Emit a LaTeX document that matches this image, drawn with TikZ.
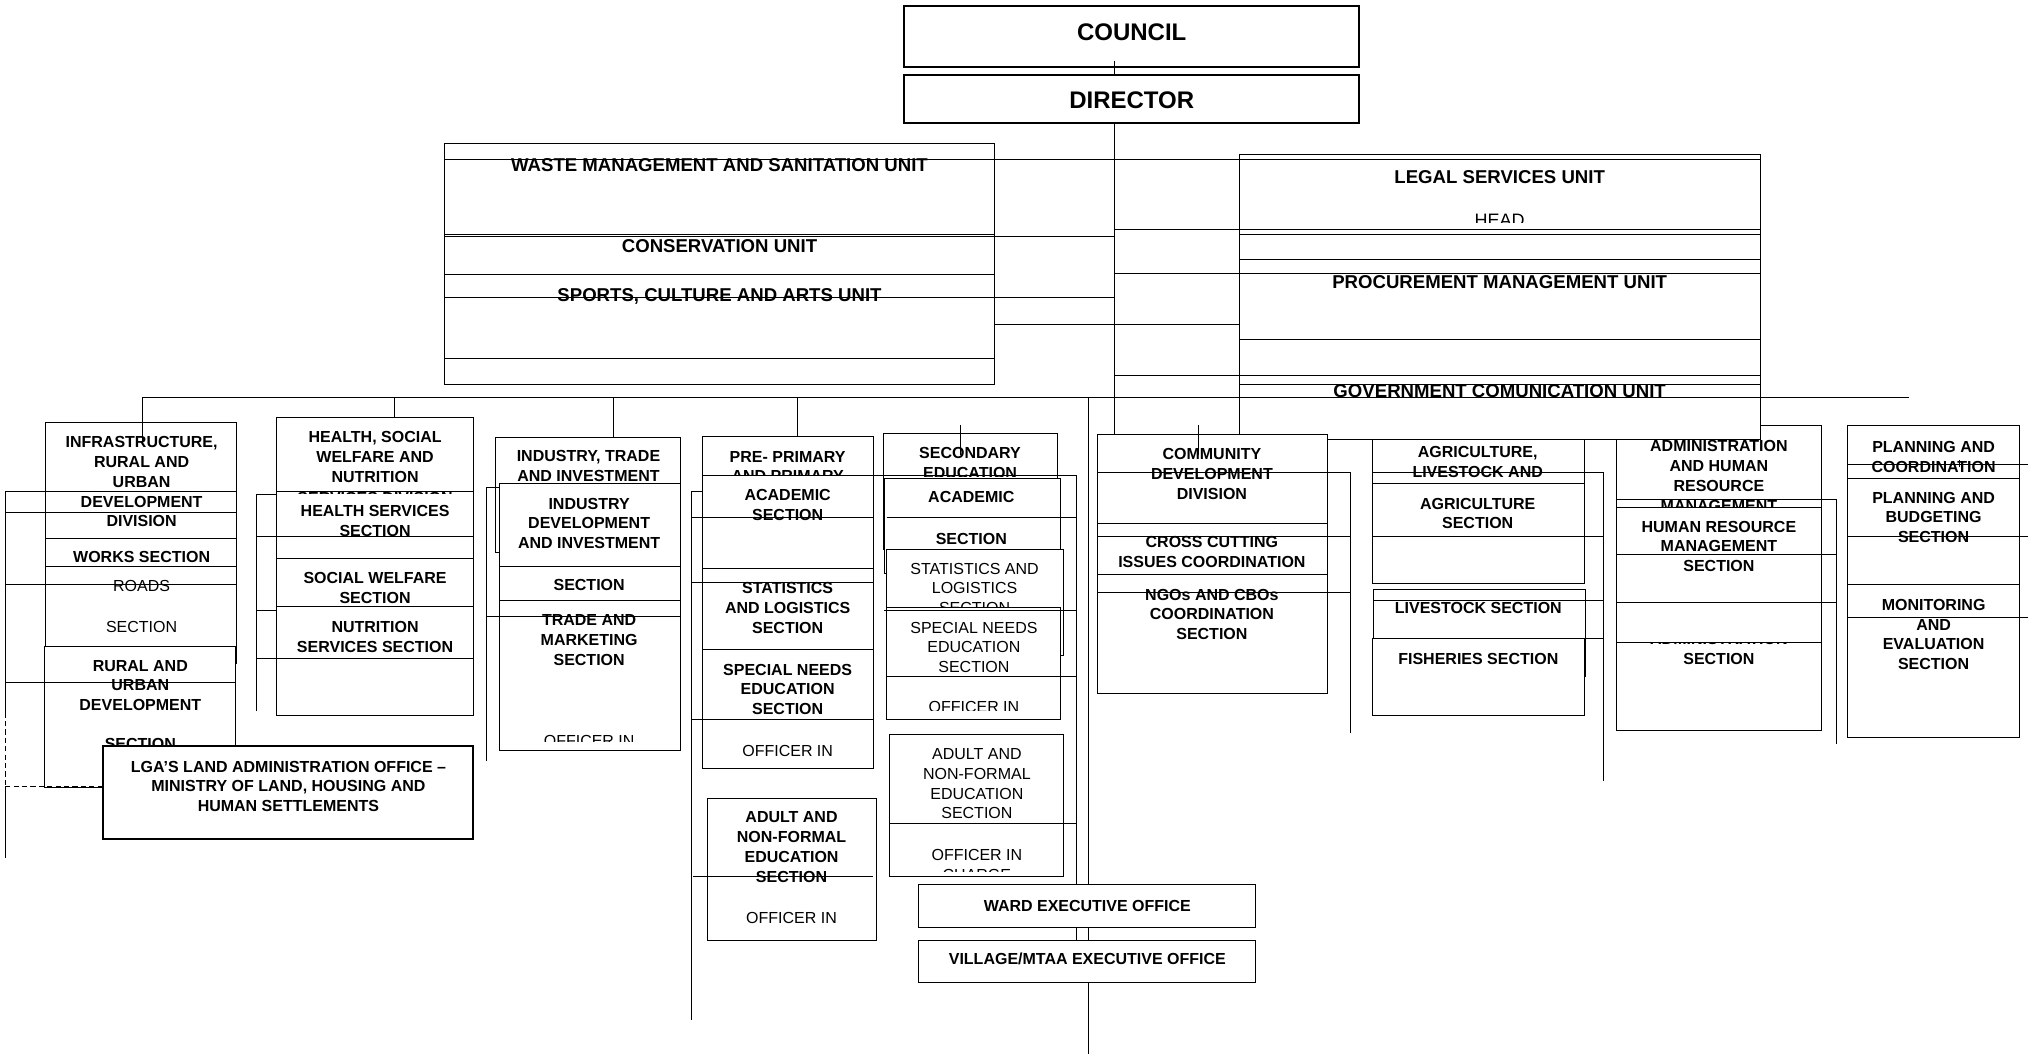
\documentclass[tikz,border=0pt]{standalone}
\usepackage{fontspec}
\setmainfont{Liberation Sans}
\usetikzlibrary{fit}
\newcommand\mybox[6][]{\node[bx,#1,fit={(#3,#4) (#5,#6)}] (#2) {};}
\begin{document}
\begin{tikzpicture}[x=0.6467pt,y=-0.6467pt,
  bx/.style={draw,line width=0.5pt,fill=white,inner sep=0pt,outer sep=0pt},
  thk/.style={line width=1pt},
  ln/.style={line width=0.5pt},
  tb/.style={font=\bfseries\fontsize{8}{9.9}\selectfont,align=center,inner sep=0pt},
  tr/.style={font=\fontsize{8}{9.9}\selectfont,align=center,inner sep=0pt},
  tu/.style={font=\bfseries\fontsize{9.3}{11}\selectfont,align=center,inner sep=0pt},
  tbig/.style={font=\bfseries\fontsize{12}{14}\selectfont,inner sep=0pt}]
\useasboundingbox (0,0) rectangle (1568,820);

% ---------- boxes ----------
\mybox[thk]{council}{699}{5}{1051}{51.5}
\mybox[thk]{director}{699}{58}{1051}{95.4}
\mybox{waste}{344}{111.3}{769}{297}
\mybox{infra}{35.5}{327}{183}{513}
\mybox{rural}{34.5}{500}{182}{609}
\mybox[thk]{lga}{80}{577}{366}{649}
\mybox{health}{214}{323}{366}{553}
\mybox{indout}{383}{338}{526}{427}
\mybox{indin}{386}{374}{526}{580}
\mybox{prim}{543.5}{337.5}{675}{594}
\mybox{primadult}{547}{617}{678}{727}
\mybox{sec}{683}{335}{817.8}{424.7}
\mybox{secacad}{683.7}{369.8}{819.6}{443.3}
\mybox{secstat}{685.5}{424.7}{822}{507}
\mybox{secspec}{685.5}{469.8}{819.6}{556.2}
\mybox{secadult}{688}{568}{822}{678}
\mybox{agri}{1061}{340}{1225}{451}
\mybox{lives}{1062}{456}{1226}{523}
\mybox{fish}{1061}{494}{1225}{553}
\mybox{admin}{1250}{329.3}{1408}{565}
\mybox{legal}{958.5}{119.5}{1361}{340}
\mybox{comm}{848.4}{335.8}{1026.4}{536}
\mybox{plan}{1428.5}{329.3}{1561.3}{570.5}

% ---------- texts ----------
\node[tbig] (tcouncil) at (875,25) {COUNCIL};
\node[tbig] (tdirector) at (875,77.5) {DIRECTOR};
\node[tu] (twaste) at (556.3,128) {WASTE MANAGEMENT AND SANITATION UNIT};
\node[tu] (tcons) at (556.3,190.5) {CONSERVATION UNIT};
\node[tu] (tsports) at (556.3,229) {SPORTS, CULTURE AND ARTS UNIT};
\node[tu] (tlegal) at (1159.5,136.6) {LEGAL SERVICES UNIT};
\begin{scope}\clip (958.5,150) rectangle (1361,172.2);
\node[font=\fontsize{9}{11}\selectfont,inner sep=0pt] (thead) at (1159.5,170) {HEAD};
\end{scope}
\node[tu] (tproc) at (1159.5,217.8) {PROCUREMENT MANAGEMENT UNIT};
\node[tu] (tgov) at (1159.5,302.5) {GOVERNMENT COMUNICATION UNIT};

% infrastructure
\node[tb] (tinfra) at (109.5,372.5) {INFRASTRUCTURE,\\RURAL AND\\URBAN\\DEVELOPMENT\\DIVISION};
\node[tb] (tworks) at (109.5,430.5) {WORKS SECTION};
\node[tr] (troads) at (109.5,453) {ROADS};
\node[tr] (troadsec) at (109.5,485) {SECTION};
\node[tb] (trural) at (108.5,530) {RURAL AND\\URBAN\\DEVELOPMENT};
\begin{scope}\clip (35,560) rectangle (182,577);
\node[tb] (truralsec) at (108.5,575.5) {SECTION};
\end{scope}
\node[tb,font=\bfseries\fontsize{8}{9.7}\selectfont] (tlga) at (223,608) {LGA’S LAND ADMINISTRATION OFFICE \textendash\\MINISTRY OF LAND, HOUSING AND\\HUMAN SETTLEMENTS};

% health
\node[tb] (thealth) at (290,353.5) {HEALTH, SOCIAL\\WELFARE AND\\NUTRITION};
\begin{scope}\clip (214,375) rectangle (366,381.5);
\node[tb] (thdiv) at (290,384.8) {SERVICES DIVISION};
\end{scope}
\node[tb] (thserv) at (290,403) {HEALTH SERVICES\\SECTION};
\node[tb] (tsocial) at (290,454.5) {SOCIAL WELFARE\\SECTION};
\node[tb] (tnutri) at (290,492.5) {NUTRITION\\SERVICES SECTION};

% industry
\node[tb] (tind) at (455,360) {INDUSTRY, TRADE\\AND INVESTMENT};
\node[tb] (tinddev) at (455.5,404.7) {INDUSTRY\\DEVELOPMENT\\AND INVESTMENT};
\node[tb] (tindsec) at (455.5,452) {SECTION};
\node[tb] (ttrade) at (455.5,494.7) {TRADE AND\\MARKETING\\SECTION};
\begin{scope}\clip (386,560) rectangle (526,573);
\node[tr] (tindoff) at (455.5,573) {OFFICER IN};
\end{scope}

% pre-primary
\node[tb] (tprim) at (609,353) {PRE- PRIMARY};
\begin{scope}\clip (543.5,355) rectangle (675,367.3);
\node[tb] (tprim2) at (609,368) {AND PRIMARY};
\end{scope}
\node[tb] (tpacad) at (609,390.5) {ACADEMIC\\SECTION};
\node[tb] (tpstat) at (609,470) {STATISTICS\\AND LOGISTICS\\SECTION};
\node[tb] (tpspec) at (609,533) {SPECIAL NEEDS\\EDUCATION\\SECTION};
\node[tr] (tpoff) at (609,580.5) {OFFICER IN};
\node[tb] (tpadult) at (612,655) {ADULT AND\\NON-FORMAL\\EDUCATION\\SECTION};
\node[tr] (tpaoff) at (612,710) {OFFICER IN};

% secondary
\node[tb] (tsec) at (750,350.5) {SECONDARY};
\begin{scope}\clip (683,355) rectangle (818,368.5);
\node[tb] (tsec2) at (750,366) {EDUCATION};
\end{scope}
\node[tb] (tsacad) at (751,384.5) {ACADEMIC};
\node[tb] (tsacad2) at (751,416.8) {SECTION};
\node[tr] (tsstat) at (753.5,447.2) {STATISTICS AND\\LOGISTICS};
\begin{scope}\clip (686,460) rectangle (822,469.8);
\node[tr] (tsstat2) at (753.5,470) {SECTION};
\end{scope}
\node[tr] (tsspec) at (753,500.5) {SPECIAL NEEDS\\EDUCATION\\SECTION};
\begin{scope}\clip (686,535) rectangle (820,549.5);
\node[tr] (tssoff) at (753,547) {OFFICER IN};
\end{scope}
\node[tr] (tsadult) at (755.3,606) {ADULT AND\\NON-FORMAL\\EDUCATION\\SECTION};
\begin{scope}\clip (688,650) rectangle (822,673.5);
\node[tr] (tsaoff) at (755.3,668.6) {OFFICER IN\\CHARGE};
\end{scope}

% community
\node[tb] (tcomm) at (937,366.5) {COMMUNITY\\DEVELOPMENT\\DIVISION};
\node[tb] (tcross) at (937,427) {CROSS CUTTING\\ISSUES COORDINATION};
\node[tb] (tngo) at (937,475) {NGOs AND CBOs\\COORDINATION\\SECTION};

% agriculture
\node[tb] (tagri) at (1142.5,357.5) {AGRICULTURE,\\LIVESTOCK AND};
\node[tb] (tagrisec) at (1142.5,397) {AGRICULTURE\\SECTION};
\node[tb] (tlive) at (1143,470) {LIVESTOCK SECTION};
\node[tb] (tfish) at (1143,509.5) {FISHERIES SECTION};

% administration
\begin{scope}\clip (1250,335) rectangle (1408,392.3);
\node[tb] (tadmin) at (1329,367.9) {ADMINISTRATION\\AND HUMAN\\RESOURCE\\MANAGEMENT};
\end{scope}
\node[tb] (thr) at (1329,422.5) {HUMAN RESOURCE\\MANAGEMENT\\SECTION};
\begin{scope}\clip (1250,497.3) rectangle (1408,520);
\node[tb] (tadsec) at (1329,502) {ADMINISTRATION\\SECTION};
\end{scope}

% planning
\node[tb] (tplan) at (1495,353.5) {PLANNING AND\\COORDINATION};
\node[tb] (tbudget) at (1495,400) {PLANNING AND\\BUDGETING\\SECTION};
\node[tb] (tmon) at (1495,490.5) {MONITORING\\AND\\EVALUATION\\SECTION};

% ---------- connectors and inner lines ----------
\begin{scope}[ln]
% top hierarchy
\coordinate (bar-l) at (110,307.3);
\coordinate (bar-r) at (1476,307.3);
\draw (862,47) -- (director.north -| 862,0);
\draw (director.south -| 862,0) -- (862,335.6);
\draw (bar-l) -- (bar-r);
\draw (344,123.7) -- (1361,123.7);
\draw (862,177.3) -- (958.5,177.3);
\draw (344,183) -- (862,183);
\draw (862,211.3) -- (1361,211.3);
\draw (344,229.9) -- (862,229.9);
\draw (waste.east |- 0,250.8) -- (legal.west |- 0,250.8);
\draw (862,290) -- (1361,290);
% waste internal
\draw (344,181) -- (769,181);
\draw (344,212.6) -- (769,212.6);
\draw (344,277) -- (769,277);
% legal internal
\draw (958.5,177.8) -- (1361,177.8);
\draw (958.5,181.2) -- (1361,181.2);
\draw (958.5,200.5) -- (1361,200.5);
\draw (958.5,262.3) -- (1361,262.3);
\draw (958.5,297.2) -- (1361,297.2);
% drops
\draw (110,307.3) -- (110,344);
\draw (305,307.3) -- (health.north -| 305,0);
\draw (474,307.3) -- (indout.north -| 474,0);
\draw (616.5,307.3) -- (prim.north -| 616.5,0);
\draw (841.5,307.3) -- (841.5,815);
\draw (743,328.6) -- (743,352);
\draw (927,328.6) -- (927,352);
\draw (1515,356) -- (1515,361);
% infrastructure
\draw (4,380) -- (183,380);
\draw (4,396) -- (183,396);
\draw (35.5,416) -- (183,416);
\draw (35.5,438) -- (183,438);
\draw (4,452) -- (183,452);
\draw (4,528) -- (182,528);
\draw (4,380) -- (4,551);
\draw[dash pattern=on 2.6pt off 1.6pt] (4,551) -- (4,608);
\draw (4,608) -- (4,663);
\draw[dash pattern=on 2.6pt off 1.6pt] (4,608) -- (lga.west |- 0,608);
% health
\draw (214,380) -- (366,380);
\draw (198.5,382) -- (214,382);
\draw (198.5,382) -- (198.5,550);
\draw (198.5,415) -- (366,415);
\draw (214,432) -- (366,432);
\draw (214,469) -- (366,469);
\draw (198.5,472) -- (214,472);
\draw (198.5,509) -- (366,509);
% industry
\draw (376,377) -- (386,377);
\draw (376,377) -- (376,588);
\draw (386,438) -- (526,438);
\draw (386,464) -- (526,464);
\draw (376,477) -- (526,477);
% pre-primary
\draw (543.5,367.3) -- (832.4,367.3);
\draw (832.4,367.3) -- (832.4,727);
\draw (534.8,380) -- (543.5,380);
\draw (534.8,380) -- (534.8,789);
\draw (534.8,400) -- (675,400);
\draw (543.5,439.4) -- (675,439.4);
\draw (534.8,450.3) -- (675,450.3);
\draw (543.5,502) -- (675,502);
\draw (534.8,556) -- (675,556);
\draw (536,678) -- (675,678);
% secondary
\draw (685.5,400) -- (832.4,400);
\draw (683.5,472) -- (832.4,472);
\draw (685.5,523.2) -- (832.4,523.2);
\draw (688,637) -- (832.4,637);
% community
\draw (848.4,365) -- (1044,365);
\draw (848.4,404.7) -- (1026.4,404.7);
\draw (848.4,415) -- (1044,415);
\draw (848.4,444.5) -- (1026.4,444.5);
\draw (848.4,458) -- (1044,458);
\draw (1044,365) -- (1044,567);
% agriculture
\draw (1061,365) -- (1240,365);
\draw (1061,374) -- (1225,374);
\draw (1061,415) -- (1240,415);
\draw (1240,365) -- (1240,604);
\draw (1062,464.6) -- (1240,464.6);
\draw (1061,494) -- (1240,494);
% administration
\draw (1250,386) -- (1420,386);
\draw (1250,392.3) -- (1408,392.3);
\draw (1250,429) -- (1420,429);
\draw (1250,465.7) -- (1420,465.7);
\draw (1250,497) -- (1408,497);
\draw (1420,386) -- (1420,575);
% planning
\draw (1428.5,359) -- (1568,359);
\draw (1428.5,370) -- (1561.3,370);
\draw (1428.5,415) -- (1568,415);
\draw (1428.5,452.3) -- (1561.3,452.3);
\draw (1428.5,477.3) -- (1568,477.3);
\end{scope}

% ---------- ward / village (on top) ----------
\mybox{ward}{710.5}{684}{971}{717}
\mybox{village}{710.5}{727}{971}{760}
\node[tb] (tward) at (840.7,700.5) {WARD EXECUTIVE OFFICE};
\node[tb] (tvillage) at (840.7,741.5) {VILLAGE/MTAA EXECUTIVE OFFICE};
\end{tikzpicture}
\end{document}
